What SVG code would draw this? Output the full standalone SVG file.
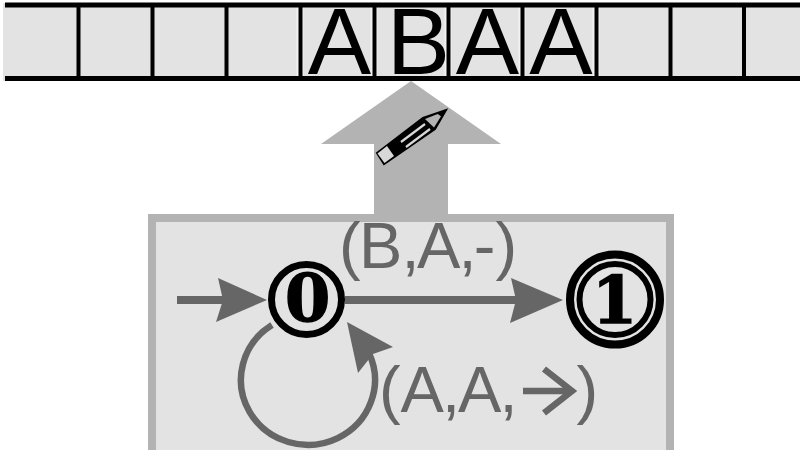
<svg xmlns="http://www.w3.org/2000/svg" width="800" height="450" viewBox="0 0 800 450">
<style>
.t{font-family:"Liberation Sans",Arial,sans-serif}
.tape{font-size:95px;fill:#000;text-anchor:middle}
.lab{font-size:65px;fill:#666}
.st{fill:none;stroke:#666}
.ar{fill:#666}
.sym{font-family:"DejaVu Serif",serif;font-weight:bold;font-size:65px;text-anchor:middle;fill:#000;stroke:#000;stroke-width:1.500}
</style>
<rect width="800" height="450" fill="#fff"/>
<g id="tape">
<rect x="3" y="3" width="797" height="78" fill="#e3e3e3"/>
<path d="M300 7V76M374 7V76M448 7V76M522 7V76M596 7V76" stroke="#f2f2f2" stroke-width="7" fill="none"/>
<path d="M5 5H800M5 78.500H800" stroke="#000" stroke-width="5" fill="none"/>
<path d="M78.500 5V78M152.500 5V78M226.500 5V78M300.500 5V78M374.500 5V78M448.500 5V78M522.500 5V78M596.500 5V78M670.500 5V78M744 5V78" stroke="#000" stroke-width="4" fill="none"/>
<text class="t tape" x="339.500" y="74">A</text>
<text class="t tape" x="418.500" y="74">B</text>
<text class="t tape" x="487.500" y="74">A</text>
<text class="t tape" x="561" y="74">A</text>
</g>
<g id="write-arrow">
<path d="M411 81L501 144H448V216H374V144H321Z" fill="#b3b3b3"/>
<g id="pencil">
<path d="M377 153L423 118L446 110L435 129L384 164Z" fill="#000" stroke="#000" stroke-width="2"/>
<path d="M377.500 153.500L387 146L394 156L384.500 163Z" fill="#d8d8d8"/>
<path d="M425 119L444 111.500L434 127.500Z" fill="#b3b3b3"/>
<path d="M401 142L425 124M406 147L430 129" stroke="#d8d8d8" stroke-width="2.200" fill="none"/>
<path d="M446 110L437 113.500L442 117Z" fill="#000"/>
</g>
</g>
<g id="machine">
<rect x="152" y="218" width="518" height="240" fill="#e3e3e3" stroke="#b3b3b3" stroke-width="8"/>
</g>
<g id="connectors">
<path class="st" d="M177 300H225" stroke-width="8"/>
<path class="ar" d="M218 278L267 300L216 322L223 300Z"/>
<path class="st" d="M345 300H520" stroke-width="8"/>
<path class="ar" d="M511 278L563 300L510 323L516 300Z"/>
<path class="st" d="M272 325A67 65 0 1 0 369.400 354" stroke-width="6.500"/>
<path class="ar" d="M347 322L393 347L373 354L358 373Z"/>
</g>
<g id="state-0">
<circle cx="306.500" cy="299.500" r="35" fill="#e3e3e3" stroke="#000" stroke-width="7"/>
<text class="sym" x="307.500" y="321">0</text>
</g>
<g id="state-1">
<circle cx="615" cy="299.500" r="45" fill="#e3e3e3" stroke="#000" stroke-width="8"/>
<circle cx="615" cy="299.500" r="35.500" fill="none" stroke="#000" stroke-width="6"/>
<text class="sym" x="614.500" y="322.500">1</text>
</g>
<g id="labels">
<text class="t lab" x="339 359 401.600 417 458.500 473.700 495.500" y="268">(B,A,-)</text>
<text class="t lab" x="379 400.600 442 458 499.500" y="412">(A,A,</text>
<path class="st" d="M523 391H571M544 369L572 391L544 413" stroke-width="6.500"/>
<text class="t lab" x="576.400" y="412">)</text>
</g>
</svg>
